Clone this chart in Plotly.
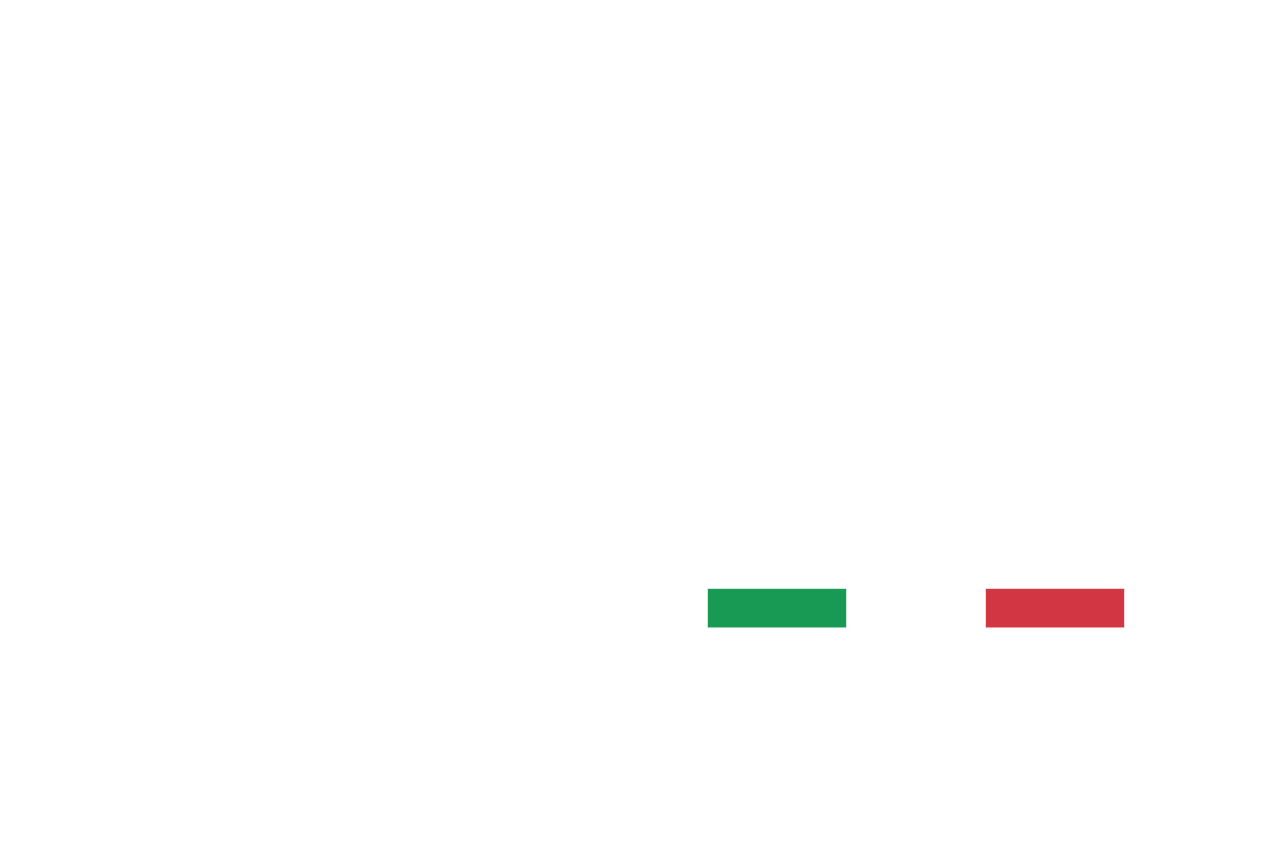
import plotly.graph_objects as go

# Data (waterfall-style steps; first two steps not drawn in the reference)
categories = ["A", "B", "C", "D"]
step_base = [None, None, 21.45, 27.3]
step_change = [None, None, 5.85, -5.85]
step_colors = ["#ffffff", "#ffffff", "#189a54", "#d23643"]

fig = go.Figure()
fig.add_trace(go.Bar(
    x=categories,
    y=step_change,
    base=step_base,
    width=0.5,
    marker=dict(color=step_colors, line=dict(color="rgba(255,255,255,0.6)", width=1)),
    showlegend=False,
    hoverinfo="skip",
))

fig.update_layout(
    width=1277,
    height=852,
    margin=dict(l=74, r=91, t=92, b=88),
    paper_bgcolor="#ffffff",
    plot_bgcolor="#ffffff",
    xaxis=dict(visible=False, type="category", range=[-0.5, 3.5]),
    yaxis=dict(visible=False, range=[0, 100]),
)

fig.write_html("out.html")
